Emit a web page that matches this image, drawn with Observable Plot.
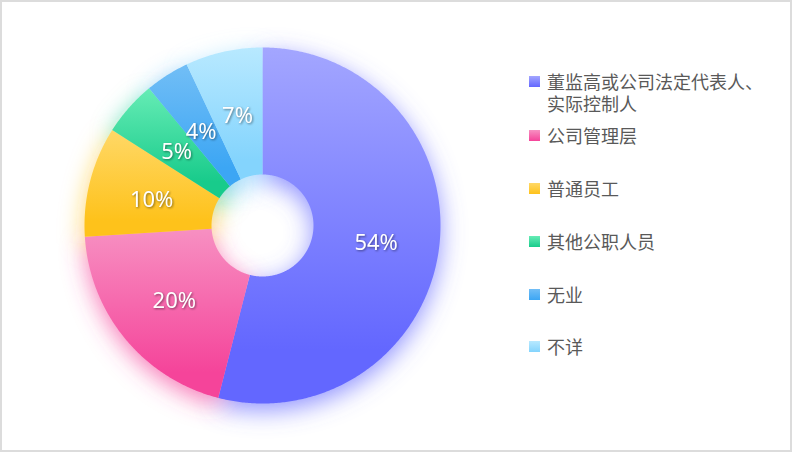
<!DOCTYPE html>
<html>
<head>
<meta charset="utf-8">
<script src="https://cdn.jsdelivr.net/npm/d3@7"></script>
<script src="https://cdn.jsdelivr.net/npm/@observablehq/plot@0.6"></script>
<style>
  html, body { margin: 0; padding: 0; background: #fff; }
  #wrap { position: relative; width: 792px; height: 452px; overflow: hidden; }
  #wrap svg { position: absolute; left: 0; top: 0; }
  #frame { position: absolute; left: 0; top: 0; right: 0; bottom: 0; border: 2px solid #dcdcdc; pointer-events: none; }
  #legend { position: absolute; left: 529px; top: 70px; font-family: "Noto Sans CJK SC", sans-serif; font-size: 18px; color: #595959; }
  .item { position: absolute; left: 0; white-space: nowrap; line-height: 22px; }
  .sw { position: absolute; left: 0; top: 6px; width: 11px; height: 11px; }
  .lab { position: absolute; left: 18px; top: 0; }
  g[aria-label="text"] { filter: drop-shadow(1px 1px 1.2px rgba(0,0,0,0.45)); }
</style>
</head>
<body>
<div id="wrap"><div id="legend"></div><div id="frame"></div></div>
<script>
const categories = ["董监高或公司法定代表人、\n实际控制人", "公司管理层", "普通员工", "其他公职人员", "无业", "不详"];
const values = [54, 20, 10, 5, 4, 7];
const pctLabels = ["54%", "20%", "10%", "5%", "4%", "7%"];
const topColors = ["#a3a6ff", "#f790c2", "#ffd867", "#66ecb5", "#72bef6", "#b8e9ff"];
const bottomColors = ["#6367ff", "#f5449a", "#fec21b", "#18cb8b", "#3ca6f4", "#84d4fd"];
const legendTops = [0, 54, 107, 160, 213, 265];

const innerR = 51 / 178;
const total = d3.sum(values);
let acc = 0;
const slices = values.map((v, i) => {
  const a0 = acc / total * 2 * Math.PI;
  acc += v;
  const a1 = acc / total * 2 * Math.PI;
  return {i, a0, a1, mid: (a0 + a1) / 2};
});

function polygon(s) {
  const pts = [];
  const n = Math.max(4, Math.ceil((s.a1 - s.a0) / (Math.PI / 360)));
  for (let k = 0; k <= n; k++) {
    const a = s.a0 + (s.a1 - s.a0) * k / n;
    pts.push({x: Math.sin(a), y: Math.cos(a)});
  }
  for (let k = n; k >= 0; k--) {
    const a = s.a0 + (s.a1 - s.a0) * k / n;
    pts.push({x: innerR * Math.sin(a), y: innerR * Math.cos(a)});
  }
  pts.push(pts[0]);
  return pts;
}

const labelR = (1 + innerR) / 2;
const labelData = slices.map(s => ({x: labelR * Math.sin(s.mid), y: labelR * Math.cos(s.mid) - 0.015, t: pctLabels[s.i]}));

const shadowMarks = slices.map(s => Plot.line(polygon(s), {x: "x", y: "y", fill: bottomColors[s.i], fillOpacity: 0.7, stroke: "none"}));
const sliceMarks = slices.map(s => Plot.line(polygon(s), {x: "x", y: "y", fill: `url(#grad${s.i})`, stroke: "none"}));

const svg = Plot.plot({
  width: 792,
  height: 452,
  marginLeft: 84,
  marginRight: 352,
  marginTop: 47,
  marginBottom: 49,
  x: {domain: [-1, 1], axis: null},
  y: {domain: [-1, 1], axis: null},
  style: {background: "transparent", overflow: "visible"},
  marks: [
    ...shadowMarks,
    ...sliceMarks,
    Plot.text(labelData, {x: "x", y: "y", text: "t", fill: "white", fontSize: 22, fontFamily: "'Noto Sans', sans-serif"})
  ]
});

const sel = d3.select(svg);
const defs = sel.insert("defs", ":first-child");
slices.forEach(s => {
  const g = defs.append("linearGradient").attr("id", `grad${s.i}`).attr("x1", 0).attr("y1", 0).attr("x2", 0).attr("y2", 1);
  g.append("stop").attr("offset", 0).attr("stop-color", topColors[s.i]);
  g.append("stop").attr("offset", 0.85).attr("stop-color", bottomColors[s.i]);
});
const f = defs.append("filter").attr("id", "blur").attr("x", "-50%").attr("y", "-50%").attr("width", "200%").attr("height", "200%");
f.append("feGaussianBlur").attr("stdDeviation", 12);
f.append("feOffset").attr("dx", 0).attr("dy", 7);
sel.selectAll('g[aria-label="line"]').each(function(d, k) {
  if (k < slices.length) d3.select(this).attr("filter", "url(#blur)");
});

const wrap = document.getElementById("wrap");
wrap.insertBefore(svg, wrap.firstChild);

const legend = d3.select("#legend");
categories.forEach((c, i) => {
  const it = legend.append("div").attr("class", "item").style("top", legendTops[i] + "px");
  it.append("div").attr("class", "sw").style("background", `linear-gradient(${topColors[i]}, ${bottomColors[i]})`);
  it.append("div").attr("class", "lab").style("white-space", "pre").text(c);
});
</script>
</body>
</html>
